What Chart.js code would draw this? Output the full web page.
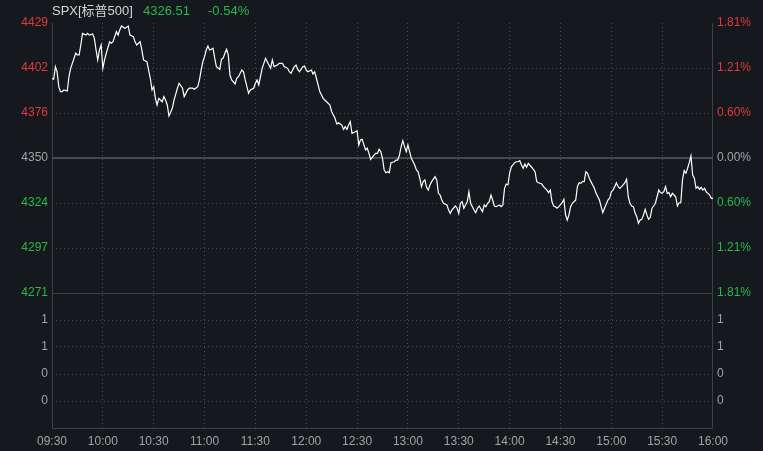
<!DOCTYPE html>
<html>
<head>
<meta charset="utf-8">
<script src="https://cdn.jsdelivr.net/npm/chart.js@4"></script>
<style>
  body { margin: 0; background: #15181d; }
  #wrap { position: relative; width: 763px; height: 451px; background: #15181d; }
  .hdr { position: absolute; top: 3px; font: 13px "Liberation Sans", "Noto Sans CJK SC", sans-serif; line-height: 16px; white-space: nowrap; }
  canvas { position: absolute; left: 0; top: 0; }
</style>
</head>
<body>
<div id="wrap">
  <canvas id="chart" width="763" height="451"></canvas>
  <span class="hdr" style="left:52px;color:#d4d4d4">SPX[标普500]</span>
  <span class="hdr" style="left:143px;color:#2db84d">4326.51</span>
  <span class="hdr" style="left:208px;color:#2db84d">-0.54%</span>
</div>
<script>
// minutes since 09:30 and index level
const minutes = [0,1,2,3,4,5,6,7,9,10,11,12,14,15,16,17,18,20,21,22,24,25,26,27,28,29,30,31,32,34,35,36,38,39,40,41,43,44,45,46,48,49,50,52,53,54,56,57,58,59,60,61,62,63,65,66,67,68,69,71,72,74,75,77,78,80,81,83,84,86,87,88,89,90,91,92,93,94,95,96,97,99,100,101,102,103,104,105,106,108,109,110,112,113,114,116,117,119,120,121,122,124,125,126,128,129,130,131,133,134,136,137,139,140,141,143,144,145,146,148,149,150,151,153,154,155,156,157,158,160,162,164,165,167,168,169,171,172,173,174,175,176,177,179,180,181,182,183,185,186,187,188,190,191,192,193,194,195,196,197,198,199,200,202,203,204,205,206,207,208,209,210,211,212,214,215,216,217,218,219,220,221,222,223,224,226,227,228,229,230,231,233,234,235,236,238,239,240,241,242,243,244,245,246,247,248,249,250,251,252,254,255,256,257,258,259,260,261,262,264,265,266,267,268,269,270,271,273,274,275,276,277,278,279,280,281,283,284,285,286,287,289,290,292,293,294,295,296,297,298,299,301,302,303,304,305,306,307,308,309,310,311,312,313,314,315,316,317,319,320,321,323,324,325,326,328,329,330,331,332,333,334,335,337,338,339,340,341,342,343,344,345,346,347,348,349,350,351,352,353,354,355,356,357,358,359,360,361,362,363,364,365,366,367,368,369,370,371,372,373,374,375,376,377,378,379,380,381,382,383,384,385,386,387,388,389,390];
const prices = [4396.5,4395.9,4403.3,4400.3,4391.6,4388.7,4388.7,4389.7,4389.1,4397.4,4402.3,4405.2,4411.1,4410.1,4410.1,4415.9,4422.7,4421.7,4422.7,4421.7,4422.3,4419.8,4413.0,4407.2,4413.0,4415.9,4402.3,4407.2,4411.1,4417.8,4416.9,4417.8,4423.7,4421.7,4424.7,4427.0,4425.7,4426.2,4427.0,4421.7,4420.8,4417.8,4415.9,4417.8,4413.0,4407.2,4406.2,4401.3,4396.5,4389.7,4391.6,4384.8,4380.9,4384.8,4382.8,4385.8,4383.8,4380.9,4374.5,4379.0,4383.8,4390.7,4393.6,4390.7,4385.8,4389.7,4390.7,4390.7,4390.1,4391.6,4395.5,4401.3,4406.2,4409.1,4413.0,4415.3,4413.0,4413.4,4414.0,4408.2,4403.3,4401.7,4407.6,4408.2,4411.1,4413.4,4410.1,4398.4,4395.5,4393.2,4396.5,4397.4,4401.3,4400.3,4395.5,4387.7,4389.7,4390.7,4393.6,4395.5,4392.6,4402.3,4405.2,4408.2,4404.2,4402.3,4407.2,4403.3,4404.2,4405.2,4405.2,4403.3,4402.3,4400.3,4399.4,4403.3,4404.2,4401.7,4400.3,4403.3,4403.7,4401.3,4400.3,4401.3,4399.0,4400.3,4396.5,4392.6,4388.7,4384.8,4382.8,4380.9,4377.0,4373.2,4369.8,4370.6,4369.2,4366.7,4368.3,4366.7,4369.2,4371.2,4364.4,4365.3,4365.9,4357.6,4360.5,4360.9,4354.7,4355.7,4352.7,4349.2,4351.7,4352.7,4352.7,4355.1,4353.7,4349.8,4343.0,4341.4,4342.0,4341.4,4347.3,4347.8,4348.8,4348.8,4351.7,4356.6,4360.1,4356.6,4353.7,4357.6,4353.7,4349.8,4345.9,4343.0,4342.0,4338.2,4333.3,4336.2,4337.2,4332.9,4331.3,4334.3,4336.2,4339.1,4337.2,4329.4,4328.4,4325.5,4323.6,4322.6,4319.7,4317.7,4319.7,4322.0,4320.7,4317.7,4323.6,4324.5,4320.7,4322.6,4324.5,4330.3,4323.6,4321.6,4319.7,4318.1,4320.7,4322.0,4318.7,4322.6,4321.6,4323.6,4324.5,4328.4,4325.5,4322.0,4321.6,4322.6,4321.6,4322.6,4332.3,4334.8,4334.3,4341.1,4344.9,4347.3,4347.8,4347.8,4348.4,4345.9,4344.0,4346.5,4344.6,4346.9,4344.6,4343.4,4342.0,4336.2,4335.6,4334.8,4333.3,4331.3,4329.8,4331.3,4324.5,4322.0,4321.6,4320.7,4321.6,4323.9,4325.9,4316.8,4313.8,4316.8,4321.6,4323.6,4324.5,4325.5,4333.3,4335.6,4335.2,4336.2,4336.2,4342.0,4341.1,4338.2,4334.3,4332.3,4329.4,4325.5,4321.6,4318.1,4320.7,4325.5,4326.5,4330.3,4331.3,4333.3,4335.6,4333.3,4332.3,4334.3,4335.6,4337.6,4327.4,4323.6,4322.0,4321.6,4318.1,4315.8,4311.9,4313.8,4314.2,4316.8,4320.1,4316.8,4314.2,4315.4,4320.7,4322.0,4323.6,4327.4,4331.3,4329.8,4329.4,4330.3,4333.3,4329.4,4329.8,4327.4,4329.4,4328.4,4327.4,4322.0,4323.9,4323.9,4337.2,4342.6,4341.1,4344.0,4347.3,4351.2,4340.0,4338.2,4332.3,4333.3,4331.7,4332.9,4331.3,4332.3,4330.3,4329.4,4328.4,4326.5,4326.51];

const timeLabels = ['09:30','10:00','10:30','11:00','11:30','12:00','12:30','13:00','13:30','14:00','14:30','15:00','15:30','16:00'];
const leftTickLabels = ['4429','4402','4376','4350','4324','4297','4271','1','1','0','0'];
const rightTickLabels = ['1.81%','1.21%','0.60%','0.00%','0.60%','1.21%','1.81%','1','1','0','0'];

const prevClose = 4350;
const maxPct = 1.81;

const RED = '#e3393c';
const GREEN = '#2db84d';
const GRAY = '#a3a3a3';
const DOT = '#45484e';
const FONT = { family: '"Liberation Sans", "Noto Sans", sans-serif', size: 12 };

// price panel spans +-maxPct, the empty lower panel is half as tall
const span = prevClose * maxPct / 100;
const yTop = prevClose + span;
const ySplit = prevClose - span;
const yBottom = ySplit - span;

const tickValues = [];
for (let k = 0; k <= 6; k++) tickValues.push(prevClose + span * (3 - k) / 3);
for (let k = 1; k <= 4; k++) tickValues.push(ySplit - span * k / 5);

function tickColor(i) {
  if (i < 3) return RED;
  if (i > 3 && i < 7) return GREEN;
  return GRAY;
}

const points = minutes.map((m, i) => ({ x: m, y: prices[i] }));

// frame, previous close line and panel separator
const framePlugin = {
  id: 'frame',
  beforeDatasetsDraw(chart) {
    const { ctx, chartArea: a, scales } = chart;
    const y = scales.y;
    ctx.save();
    ctx.strokeStyle = '#3d4045';
    ctx.lineWidth = 1;
    ctx.beginPath();
    ctx.moveTo(a.left + 0.5, a.top);
    ctx.lineTo(a.left + 0.5, a.bottom + 0.5);
    ctx.lineTo(a.right - 0.5, a.bottom + 0.5);
    ctx.lineTo(a.right - 0.5, a.top);
    ctx.stroke();

    const ys = Math.round(y.getPixelForValue(ySplit)) + 0.5;
    ctx.beginPath();
    ctx.moveTo(a.left, ys);
    ctx.lineTo(a.right, ys);
    ctx.stroke();

    const yp = Math.round(y.getPixelForValue(prevClose));
    ctx.strokeStyle = '#47494d';
    ctx.lineWidth = 2;
    ctx.beginPath();
    ctx.moveTo(a.left, yp);
    ctx.lineTo(a.right, yp);
    ctx.stroke();
    ctx.restore();
  }
};

const yCommon = {
  min: yBottom,
  max: yTop,
  afterBuildTicks: (s) => { s.ticks = tickValues.map(v => ({ value: v })); },
  border: { display: false },
  ticks: {
    autoSkip: false,
    padding: 4,
    font: FONT,
    color: (c) => tickColor(c.index)
  }
};

new Chart(document.getElementById('chart'), {
  type: 'line',
  data: {
    datasets: [{
      data: points,
      borderColor: '#ffffff',
      borderWidth: 1.2,
      pointRadius: 0,
      tension: 0,
      yAxisID: 'y'
    }]
  },
  options: {
    responsive: false,
    animation: false,
    layout: { padding: { top: 23, left: 0, right: 0, bottom: 0 } },
    plugins: {
      legend: { display: false },
      tooltip: { enabled: false }
    },
    scales: {
      x: {
        type: 'linear',
        min: 0,
        max: 390,
        afterBuildTicks: (s) => { s.ticks = timeLabels.map((t, i) => ({ value: i * 30 })); },
        afterFit: (s) => { s.height = 23; },
        border: { display: false, dash: [1, 3] },
        grid: {
          drawTicks: false,
          color: (c) => (c.index === 0 || c.index === timeLabels.length - 1) ? 'rgba(0,0,0,0)' : DOT
        },
        ticks: {
          autoSkip: false,
          maxRotation: 0,
          padding: 6,
          font: FONT,
          color: GRAY,
          callback: (v, i) => timeLabels[i]
        }
      },
      y: {
        ...yCommon,
        position: 'left',
        afterFit: (s) => { s.width = 52; },
        border: { display: false, dash: [1, 3] },
        grid: {
          drawTicks: false,
          color: (c) => (c.index === 0 || c.index === 3 || c.index === 6) ? 'rgba(0,0,0,0)' : DOT
        },
        ticks: { ...yCommon.ticks, callback: (v, i) => leftTickLabels[i] }
      },
      y1: {
        ...yCommon,
        position: 'right',
        afterFit: (s) => { s.width = 50; },
        grid: { drawTicks: false, drawOnChartArea: false },
        ticks: { ...yCommon.ticks, callback: (v, i) => rightTickLabels[i] }
      }
    }
  },
  plugins: [framePlugin]
});
</script>
</body>
</html>
